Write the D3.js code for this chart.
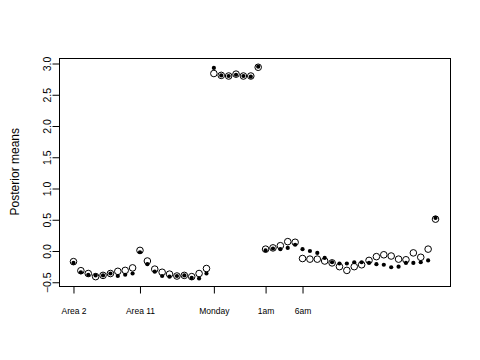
<!DOCTYPE html>
<html>
<head>
<meta charset="utf-8">
<script src="https://cdn.jsdelivr.net/npm/d3@7"></script>
<style>
  html, body { margin: 0; padding: 0; background: #fff; }
  svg { display: block; font-family: "Liberation Sans", Arial, sans-serif; }
</style>
</head>
<body>
<svg id="chart" width="480" height="360"></svg>
<script>
// ---- data ----
const tickLabels = ["Area 2", "Area 11", "Monday", "1am", "6am"];
const tickIndex = [1, 10, 20, 27, 32];
const yTicks = [-0.5, 0.0, 0.5, 1.0, 1.5, 2.0, 2.5, 3.0];
const filledVals = [
  -0.19, -0.34, -0.38, -0.39, -0.39, -0.36, -0.40, -0.38, -0.36, -0.02,
  -0.21, -0.33, -0.40, -0.41, -0.40, -0.39, -0.43, -0.44, -0.36,
  2.93, 2.81, 2.80, 2.82, 2.80, 2.79, 2.95,
  0.01, 0.04, 0.03, 0.05, 0.10, 0.03, 0.00, -0.03, -0.11, -0.18, -0.20, -0.20,
  -0.18, -0.18, -0.19, -0.21, -0.22, -0.26, -0.25, -0.19, -0.19, -0.18, -0.15,
  0.53
];
const openVals = [
  -0.17, -0.315, -0.36, -0.41, -0.39, -0.36, -0.325, -0.31, -0.27, 0.01,
  -0.16, -0.29, -0.34, -0.37, -0.40, -0.39, -0.41, -0.36, -0.28,
  2.84, 2.81, 2.80, 2.83, 2.80, 2.80, 2.94,
  0.03, 0.05, 0.085, 0.15, 0.14, -0.12, -0.13, -0.13, -0.16, -0.19, -0.25, -0.31,
  -0.25, -0.22, -0.15, -0.09, -0.06, -0.08, -0.13, -0.14, -0.03, -0.10, 0.03,
  0.51
];
const yTitle = "Posterior means";

// ---- layout ----
const svg = d3.select("#chart");
const L = 59, R = 450, T = 57.7, B = 285.7;
const n = openVals.length;
const xPad = 0.04 * (n - 1);
const x = d3.scaleLinear().domain([1 - xPad, n + xPad]).range([L, R]);
const yMin = d3.min([...openVals, ...filledVals]);
const yMax = d3.max([...openVals, ...filledVals]);
const y = d3.scaleLinear().domain([-0.555, 3.093]).range([B, T]);

// box
svg.append("rect")
  .attr("x", L + 0.5).attr("y", Math.round(T) + 0.5)
  .attr("width", R - L).attr("height", Math.round(B) - Math.round(T))
  .attr("fill", "none").attr("stroke", "#000").attr("stroke-width", 1);

// y axis
const yAxis = d3.axisLeft(y).tickValues(yTicks).tickSize(7).tickPadding(0)
  .tickFormat(d3.format(".1f")).tickSizeOuter(0);
const gy = svg.append("g").attr("transform", `translate(${L + 0.5},0)`).call(yAxis);
gy.select(".domain").attr("d", `M0,${y(-0.5)}V${y(3.0)}`).attr("stroke", "#000");
gy.selectAll(".tick line").attr("stroke", "#000");
gy.selectAll(".tick text")
  .attr("x", 0).attr("dy", null)
  .attr("transform", "translate(-9,0) rotate(-90)")
  .attr("text-anchor", "middle")
  .attr("font-size", 10.5)
  .attr("font-family", "Liberation Sans, Arial, sans-serif")
  .attr("fill", "#000")
  .attr("y", 0);

// x axis
const xAxis = d3.axisBottom(x).tickValues(tickIndex).tickSize(7).tickSizeOuter(0)
  .tickFormat((d, i) => tickLabels[i]);
const gx = svg.append("g").attr("transform", `translate(0,${Math.round(B) + 0.5})`).call(xAxis);
gx.select(".domain").attr("d", `M${x(tickIndex[0])},0H${x(tickIndex[tickIndex.length - 1])}`).attr("stroke", "#000");
gx.selectAll(".tick line").attr("stroke", "#000");
gx.selectAll(".tick text")
  .attr("y", 27.5).attr("dy", null)
  .attr("font-size", 8.5)
  .attr("font-family", "Liberation Sans, Arial, sans-serif")
  .attr("fill", "#000");

// y title
svg.append("text")
  .attr("transform", `translate(19,${(T + B) / 2}) rotate(-90)`)
  .attr("text-anchor", "middle")
  .attr("font-size", 12)
  .attr("fill", "#000")
  .text(yTitle);

// points: open circles, then filled dots
svg.append("g").selectAll("circle")
  .data(openVals)
  .join("circle")
  .attr("cx", (d, i) => x(i + 1))
  .attr("cy", d => y(d))
  .attr("r", 3.3)
  .attr("fill", "none")
  .attr("stroke", "#000")
  .attr("stroke-width", 1);

svg.append("g").selectAll("circle")
  .data(filledVals)
  .join("circle")
  .attr("cx", (d, i) => x(i + 1))
  .attr("cy", d => y(d))
  .attr("r", 2.1)
  .attr("fill", "#000");
</script>
</body>
</html>
